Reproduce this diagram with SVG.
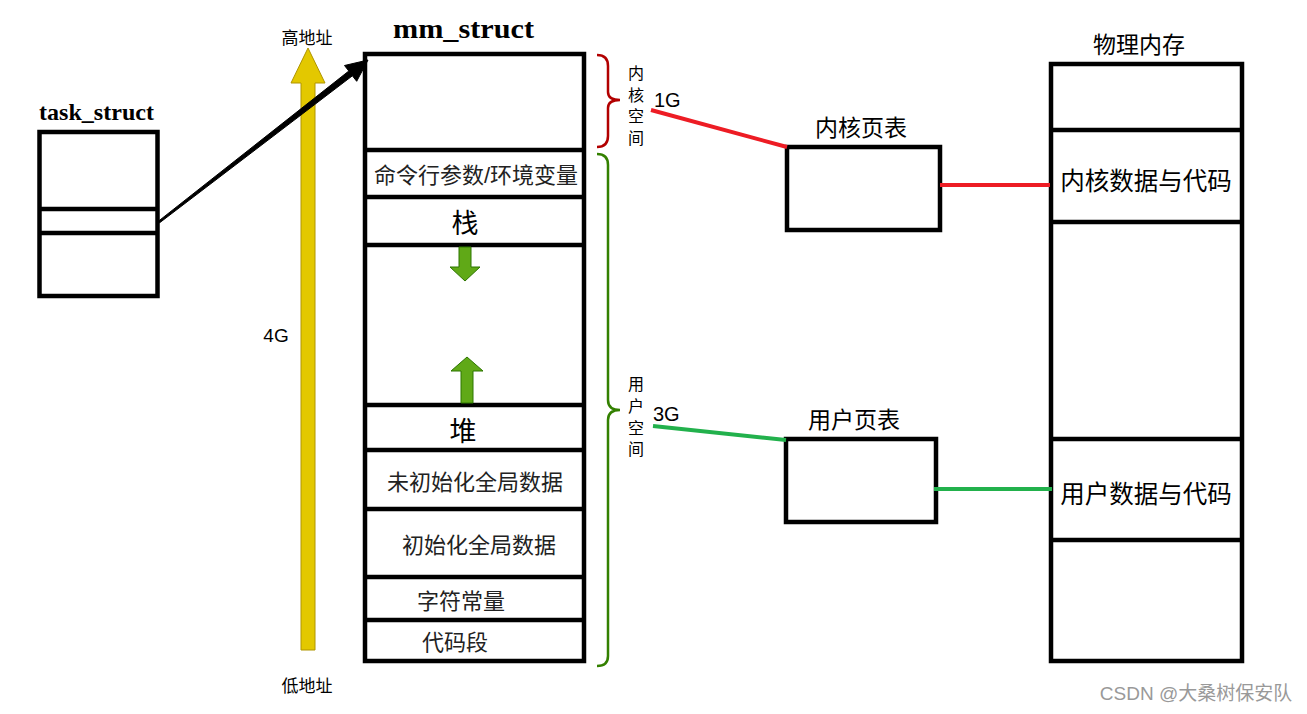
<svg xmlns="http://www.w3.org/2000/svg" width="1307" height="714" viewBox="0 0 1307 714">
<style>
.box{fill:#fff;stroke:#000;stroke-width:4.5}
.sep{stroke:#000;stroke-width:4.5}
.ttl{font-family:"Liberation Serif","Noto Sans CJK SC",serif;font-weight:bold;fill:#000}
.cn{font-family:"Liberation Serif","Noto Sans CJK SC",serif;fill:#000;text-anchor:middle}
.sec{font-family:"Liberation Sans","Noto Sans CJK SC",sans-serif;fill:#222;text-anchor:middle}
.lbl{font-family:"Liberation Sans","Noto Sans CJK SC",sans-serif;fill:#000}
.garrow{fill:#60a917;stroke:#2d7600;stroke-width:1}
</style>
<rect width="1307" height="714" fill="#fff"/>

<g id="task_struct">
<text class="ttl" x="39" y="120" font-size="23" textLength="115" lengthAdjust="spacingAndGlyphs">task_struct</text>
<rect class="box" x="39.5" y="132" width="118" height="164"/>
<line class="sep" x1="39.5" y1="209" x2="157.5" y2="209"/>
<line class="sep" x1="39.5" y1="233" x2="157.5" y2="233"/>
</g>

<g id="address_axis">
<polygon points="301,650 301,83 291,83 308,48 325,83 315,83 315,650" fill="#e3c800" stroke="#b09500" stroke-width="1"/>
<text class="lbl" x="307" y="44" font-size="17" text-anchor="middle">高地址</text>
<text class="lbl" x="307" y="692" font-size="17" text-anchor="middle">低地址</text>
<text class="lbl" x="276" y="342" font-size="19" text-anchor="middle">4G</text>
</g>

<g id="mm_struct">
<text class="ttl" x="393" y="38" font-size="28" textLength="141" lengthAdjust="spacingAndGlyphs">mm_struct</text>
<rect class="box" x="365" y="54" width="219" height="607"/>
<line class="sep" x1="365" y1="150" x2="584" y2="150"/>
<line class="sep" x1="365" y1="197" x2="584" y2="197"/>
<line class="sep" x1="365" y1="245" x2="584" y2="245"/>
<line class="sep" x1="365" y1="405" x2="584" y2="405"/>
<line class="sep" x1="365" y1="450" x2="584" y2="450"/>
<line class="sep" x1="365" y1="509" x2="584" y2="509"/>
<line class="sep" x1="365" y1="577" x2="584" y2="577"/>
<line class="sep" x1="365" y1="620" x2="584" y2="620"/>
<text class="sec" x="476" y="183" font-size="22">命令行参数/环境变量</text>
<text class="cn" x="465" y="233" font-size="27">栈</text>
<polygon class="garrow" points="459,247 471,247 471,267 480,267 465,281 450,267 459,267"/>
<polygon class="garrow" points="461,403 473,403 473,371 483,371 467,357 451,371 461,371"/>
<text class="cn" x="463" y="441" font-size="27">堆</text>
<text class="sec" x="475" y="490" font-size="22">未初始化全局数据</text>
<text class="sec" x="479" y="553" font-size="22">初始化全局数据</text>
<text class="sec" x="461" y="609" font-size="22">字符常量</text>
<text class="sec" x="455" y="650" font-size="22">代码段</text>
</g>

<g id="kernel_space">
<path d="M597,55 Q608,55 608,66 L608,92 Q608,100 620,100 Q608,100 608,108 L608,136 Q608,147 597,147" fill="none" stroke="#b20000" stroke-width="2.5"/>
<g class="lbl" font-size="16" text-anchor="middle">
<text x="636" y="79">内</text>
<text x="636" y="101">核</text>
<text x="636" y="122">空</text>
<text x="636" y="144">间</text>
</g>
<text class="lbl" x="654" y="107" font-size="20">1G</text>
</g>

<g id="user_space">
<path d="M597,154 Q608,154 608,165 L608,400 Q608,410 620,410 Q608,410 608,420 L608,656 Q608,666 597,666" fill="none" stroke="#338000" stroke-width="2.5"/>
<g class="lbl" font-size="16" text-anchor="middle">
<text x="636" y="390">用</text>
<text x="636" y="412">户</text>
<text x="636" y="434">空</text>
<text x="636" y="455">间</text>
</g>
<text class="lbl" x="653" y="421" font-size="20">3G</text>
</g>

<g id="kernel_page_table">
<text class="cn" x="861" y="136" font-size="23">内核页表</text>
<rect class="box" x="787" y="147" width="153" height="83"/>
</g>

<g id="user_page_table">
<text class="cn" x="854" y="428" font-size="23">用户页表</text>
<rect class="box" x="786" y="439" width="150" height="83"/>
</g>

<g id="physical_memory">
<text class="cn" x="1139" y="53" font-size="23">物理内存</text>
<rect class="box" x="1051" y="64" width="191" height="597"/>
<line class="sep" x1="1051" y1="130" x2="1242" y2="130"/>
<line class="sep" x1="1051" y1="222" x2="1242" y2="222"/>
<line class="sep" x1="1051" y1="439" x2="1242" y2="439"/>
<line class="sep" x1="1051" y1="540" x2="1242" y2="540"/>
<text class="cn" x="1146" y="190" font-size="24.5">内核数据与代码</text>
<text class="cn" x="1146" y="503" font-size="24.5">用户数据与代码</text>
</g>

<g id="connectors">
<polygon points="158.4,221.2 348.8,71.0 344.5,65.5 368,60 356.7,81.3 352.4,75.8 159.6,222.8" fill="#000" stroke="#000" stroke-width="1"/>
<line x1="651" y1="110" x2="787" y2="147" stroke="#ed1c24" stroke-width="4"/>
<line x1="940" y1="185" x2="1050" y2="185" stroke="#ed1c24" stroke-width="4"/>
<line x1="653" y1="426" x2="786" y2="440" stroke="#22b14c" stroke-width="4"/>
<line x1="934" y1="489" x2="1052" y2="489" stroke="#22b14c" stroke-width="4"/>
</g>

<text x="1196" y="700" font-family="Liberation Sans,'Noto Sans CJK SC',sans-serif" font-size="19" fill="#999" text-anchor="middle">CSDN @大桑树保安队</text>
</svg>
